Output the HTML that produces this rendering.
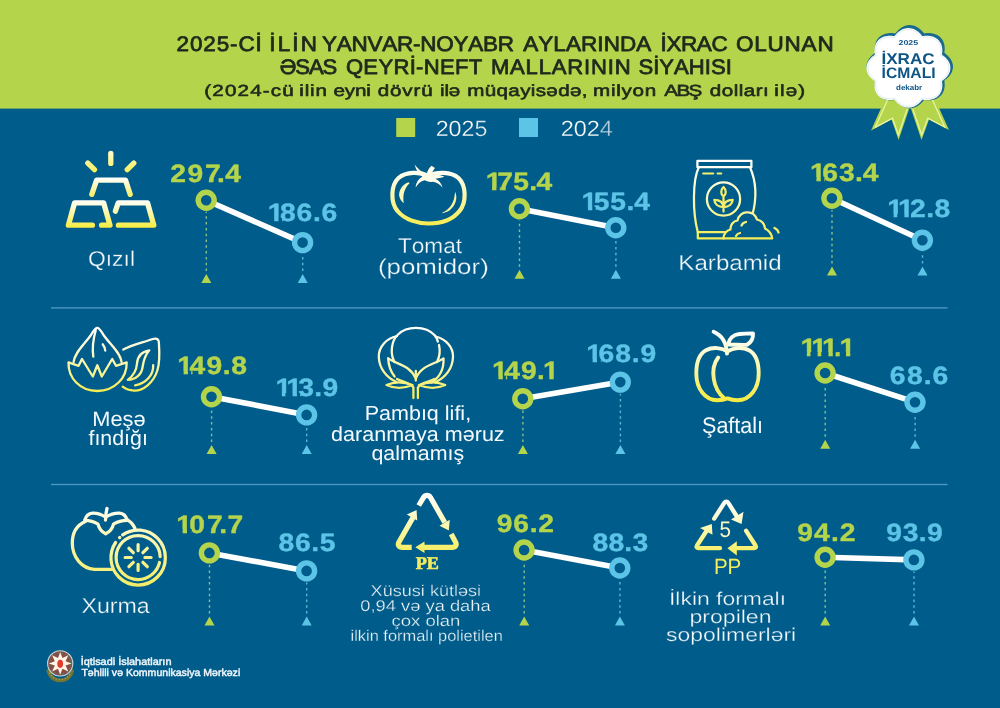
<!DOCTYPE html>
<html lang="az">
<head>
<meta charset="utf-8">
<title>2025-ci ilin yanvar-noyabr aylarında ixrac olunan əsas qeyri-neft mallarının siyahısı</title>
<style>
html,body{margin:0;padding:0;background:#005c8a;}
body{width:1000px;height:708px;overflow:hidden;font-family:"Liberation Sans",sans-serif;}
svg{display:block}
text{white-space:pre;font-kerning:none;text-rendering:geometricPrecision}
</style>
</head>
<body>
<svg width="1000" height="708" viewBox="0 0 1000 708">
<defs>
<linearGradient id="gy" x1="0" y1="0" x2="0" y2="1">
<stop offset="0" stop-color="#ffffff"/><stop offset="1" stop-color="#f3ec5f"/>
</linearGradient>
</defs>
<rect x="0" y="0" width="1000" height="708" fill="#005c8a"/>
<rect x="0" y="0" width="1000" height="108.6" fill="#b4d44c"/>
<text transform="translate(176.57 50.80) scale(1.0700 1)" x="0.00 12.51 25.03 37.54 50.06 57.89 73.89 80.19 86.73 94.53 108.17 115.97 131.60 135.88 149.68 163.48 178.44 192.24 206.04 221.00 227.79 242.74 258.87 272.67 286.48 300.28 315.91 323.91 338.01 352.12 363.89 377.99 393.26 399.19 414.45 429.71 444.18 452.39 457.84 471.46 486.24 499.87 515.50 522.73 539.83 552.27 568.21 584.14 598.91" font-family='"Liberation Sans", sans-serif' font-size="21.0" font-weight="normal" fill="#1f2a1c" stroke="#1f2a1c" stroke-width="0.77" stroke-linejoin="round">2025-Cİ İLİN YANVAR-NOYABR AYLARINDA İXRAC OLUNAN</text>
<text transform="translate(279.69 73.80) scale(1.0500 1)" x="0.00 14.82 27.85 40.87 55.36 63.06 79.70 94.01 108.32 123.79 129.93 137.23 152.70 167.01 180.14 193.45 201.15 219.42 234.21 246.67 259.13 273.91 289.86 296.47 312.42 319.03 334.68 341.68 355.72 361.59 375.63 389.67 404.87 410.74 424.78" font-family='"Liberation Sans", sans-serif' font-size="21.0" font-weight="normal" fill="#1f2a1c" stroke="#1f2a1c" stroke-width="0.78" stroke-linejoin="round">ƏSAS QEYRİ-NEFT MALLARININ SİYAHISI</text>
<text transform="translate(204.37 95.90) scale(1.2800 1)" x="0.00 6.25 16.09 25.93 35.77 45.61 51.86 60.80 70.15 74.14 78.36 82.58 86.80 96.15 100.90 109.70 117.60 126.40 130.36 135.48 145.08 154.68 163.38 169.39 178.74 184.10 187.53 190.96 200.31 205.40 219.07 228.28 237.50 246.71 255.02 258.86 267.17 276.38 285.59 294.81 299.67 303.64 317.62 321.76 325.90 334.51 344.03 353.37 359.37 368.81 378.26 389.39 394.85 404.19 413.52 417.47 421.43 430.76 436.50 441.36 445.23 449.69 454.15 463.98" font-family='"Liberation Sans", sans-serif' font-size="16.1" font-weight="normal" fill="#1f2a1c" stroke="#1f2a1c" stroke-width="0.61" stroke-linejoin="round">(2024-cü ilin eyni dövrü ilə müqayisədə, milyon ABŞ dolları ilə)</text>
<rect x="396.2" y="118" width="19" height="19" fill="#b4d44c"/>
<rect x="519" y="118" width="19" height="19" fill="#5cc4e6"/>
<text transform="translate(435.67 136.00) scale(1.0555 1)" font-family='"Liberation Sans", sans-serif' font-size="22" font-weight="normal" fill="#fff" stroke="#005c8a" stroke-width="0.3" stroke-linejoin="round" >202<tspan fill-opacity=".88">5</tspan></text>
<text transform="translate(560.66 136.00) scale(1.0663 1)" font-family='"Liberation Sans", sans-serif' font-size="22" font-weight="normal" fill="#fff" stroke="#005c8a" stroke-width="0.3" stroke-linejoin="round" >202<tspan fill-opacity=".72">4</tspan></text>
<rect x="51" y="307.2" width="896.5" height="1.4" fill="#4d96c2"/>
<rect x="51" y="483.8" width="896.5" height="1.4" fill="#4d96c2"/>
<line x1="206.3" y1="271.0" x2="206.3" y2="211.8" stroke="#a0d28c" stroke-width="1.4" stroke-dasharray="2.5 3.3" opacity="0.85"/>
<polygon points="201.3,283.0 211.3,283.0 206.3,274.0" fill="#b4d44c"/>
<line x1="302.7" y1="271.0" x2="302.7" y2="254.2" stroke="#6cc8e6" stroke-width="1.4" stroke-dasharray="2.5 3.3" opacity="0.85"/>
<polygon points="297.7,283.0 307.7,283.0 302.7,274.0" fill="#5cc4e6"/>
<line x1="206.2" y1="200.2" x2="302.6" y2="242.6" stroke="#fff" stroke-width="5.6"/>
<circle cx="206.2" cy="200.2" r="8" fill="#005c8a" stroke="#b4d44c" stroke-width="5.4"/>
<circle cx="302.6" cy="242.6" r="8" fill="#005c8a" stroke="#5cc4e6" stroke-width="5.4"/>
<text transform="translate(170.24 181.50) scale(1.130 1)" x="0.00 15.35 30.71 41.43 48.65" font-family='"Liberation Sans", sans-serif' font-size="25.0" font-weight="bold" fill="#b4d44c" stroke="#b4d44c" stroke-width="0.4" stroke-linejoin="round">297.4</text>
<clipPath id="c1"><path clip-rule="evenodd" d="M-30 -30.0H102.4V12.5H-30ZM-0.75 -2.90H5.63V2.00H-0.75ZM9.46 -2.90H12.63V2.00H9.46Z"/></clipPath><text transform="translate(267.80 220.90) scale(1.130 1)" x="0.00 10.71 25.42 39.92 47.43" font-family='"Liberation Sans", sans-serif' font-size="25.0" font-weight="bold" fill="#5cc4e6" stroke="#5cc4e6" stroke-width="0.4" stroke-linejoin="round" clip-path="url(#c1)">186.6</text>
<line x1="519.5" y1="266.8" x2="519.5" y2="220.3" stroke="#a0d28c" stroke-width="1.4" stroke-dasharray="2.5 3.3" opacity="0.85"/>
<polygon points="514.5,278.8 524.5,278.8 519.5,269.8" fill="#b4d44c"/>
<line x1="615.9" y1="266.8" x2="615.9" y2="239.3" stroke="#6cc8e6" stroke-width="1.4" stroke-dasharray="2.5 3.3" opacity="0.85"/>
<polygon points="610.9,278.8 620.9,278.8 615.9,269.8" fill="#5cc4e6"/>
<line x1="519.4" y1="208.7" x2="615.8" y2="227.7" stroke="#fff" stroke-width="5.6"/>
<circle cx="519.4" cy="208.7" r="8" fill="#005c8a" stroke="#b4d44c" stroke-width="5.4"/>
<circle cx="615.8" cy="227.7" r="8" fill="#005c8a" stroke="#5cc4e6" stroke-width="5.4"/>
<clipPath id="c2"><path clip-rule="evenodd" d="M-30 -30.0H99.9V12.5H-30ZM-0.75 -3.40H5.63V2.00H-0.75ZM9.46 -3.40H12.48V2.00H9.46Z"/></clipPath><text transform="translate(485.70 190.40) scale(1.130 1)" x="0.00 10.29 24.40 38.52 44.89" font-family='"Liberation Sans", sans-serif' font-size="25.0" font-weight="bold" fill="#b4d44c" stroke="#b4d44c" stroke-width="0.4" stroke-linejoin="round" clip-path="url(#c2)">175.4</text>
<clipPath id="c3"><path clip-rule="evenodd" d="M-30 -30.0H101.6V12.5H-30ZM-0.75 -3.00H5.63V2.00H-0.75ZM9.46 -3.00H12.55V2.00H9.46Z"/></clipPath><text transform="translate(581.60 210.00) scale(1.130 1)" x="0.00 10.66 25.33 39.84 46.57" font-family='"Liberation Sans", sans-serif' font-size="25.0" font-weight="bold" fill="#5cc4e6" stroke="#5cc4e6" stroke-width="0.4" stroke-linejoin="round" clip-path="url(#c3)">155.4</text>
<line x1="832.0" y1="263.6" x2="832.0" y2="209.9" stroke="#a0d28c" stroke-width="1.4" stroke-dasharray="2.5 3.3" opacity="0.85"/>
<polygon points="827.0,275.6 837.0,275.6 832.0,266.6" fill="#b4d44c"/>
<line x1="922.5" y1="263.6" x2="922.5" y2="251.8" stroke="#6cc8e6" stroke-width="1.4" stroke-dasharray="2.5 3.3" opacity="0.85"/>
<polygon points="917.5,275.6 927.5,275.6 922.5,266.6" fill="#5cc4e6"/>
<line x1="831.9" y1="198.3" x2="922.4" y2="240.2" stroke="#fff" stroke-width="5.6"/>
<circle cx="831.9" cy="198.3" r="8" fill="#005c8a" stroke="#b4d44c" stroke-width="5.4"/>
<circle cx="922.4" cy="240.2" r="8" fill="#005c8a" stroke="#5cc4e6" stroke-width="5.4"/>
<clipPath id="c4"><path clip-rule="evenodd" d="M-30 -30.0H101.6V12.5H-30ZM-0.75 -3.60H5.63V2.00H-0.75ZM9.46 -3.60H12.73V2.00H9.46Z"/></clipPath><text transform="translate(810.10 180.60) scale(1.130 1)" x="0.00 10.69 25.53 39.84 46.57" font-family='"Liberation Sans", sans-serif' font-size="25.0" font-weight="bold" fill="#b4d44c" stroke="#b4d44c" stroke-width="0.4" stroke-linejoin="round" clip-path="url(#c4)">163.4</text>
<clipPath id="c5"><path clip-rule="evenodd" d="M-30 -30.0H96.7V12.5H-30ZM-0.75 -3.20H5.63V2.00H-0.75ZM8.77 -3.20H15.16V2.00H8.77ZM18.99 -3.20H20.99V2.00H18.99Z"/></clipPath><text transform="translate(887.30 217.20) scale(1.130 1)" x="0.00 9.52 20.12 34.38 41.72" font-family='"Liberation Sans", sans-serif' font-size="25.0" font-weight="bold" fill="#5cc4e6" stroke="#5cc4e6" stroke-width="0.4" stroke-linejoin="round" clip-path="url(#c5)">112.8</text>
<line x1="211.6" y1="442.0" x2="211.6" y2="408.3" stroke="#a0d28c" stroke-width="1.4" stroke-dasharray="2.5 3.3" opacity="0.85"/>
<polygon points="206.6,454.0 216.6,454.0 211.6,445.0" fill="#b4d44c"/>
<line x1="306.7" y1="442.0" x2="306.7" y2="426.5" stroke="#6cc8e6" stroke-width="1.4" stroke-dasharray="2.5 3.3" opacity="0.85"/>
<polygon points="301.7,454.0 311.7,454.0 306.7,445.0" fill="#5cc4e6"/>
<line x1="211.5" y1="396.7" x2="306.6" y2="414.9" stroke="#fff" stroke-width="5.6"/>
<circle cx="211.5" cy="396.7" r="8" fill="#005c8a" stroke="#b4d44c" stroke-width="5.4"/>
<circle cx="306.6" cy="414.9" r="8" fill="#005c8a" stroke="#5cc4e6" stroke-width="5.4"/>
<clipPath id="c6"><path clip-rule="evenodd" d="M-30 -30.0H102.8V12.5H-30ZM-0.75 -3.00H5.63V2.00H-0.75ZM9.46 -3.00H12.31V2.00H9.46Z"/></clipPath><text transform="translate(177.30 374.00) scale(1.130 1)" x="0.00 10.81 25.92 40.13 47.82" font-family='"Liberation Sans", sans-serif' font-size="25.0" font-weight="bold" fill="#b4d44c" stroke="#b4d44c" stroke-width="0.4" stroke-linejoin="round" clip-path="url(#c6)">149.8</text>
<clipPath id="c7"><path clip-rule="evenodd" d="M-30 -30.0H96.7V12.5H-30ZM-0.75 -3.30H5.63V2.00H-0.75ZM8.76 -3.30H15.14V2.00H8.76ZM18.97 -3.30H21.89V2.00H18.97Z"/></clipPath><text transform="translate(275.50 396.30) scale(1.130 1)" x="0.00 9.51 20.19 34.34 41.70" font-family='"Liberation Sans", sans-serif' font-size="25.0" font-weight="bold" fill="#5cc4e6" stroke="#5cc4e6" stroke-width="0.4" stroke-linejoin="round" clip-path="url(#c7)">113.9</text>
<line x1="522.9" y1="442.0" x2="522.9" y2="410.4" stroke="#a0d28c" stroke-width="1.4" stroke-dasharray="2.5 3.3" opacity="0.85"/>
<polygon points="517.9,454.0 527.9,454.0 522.9,445.0" fill="#b4d44c"/>
<line x1="620.4" y1="442.0" x2="620.4" y2="393.7" stroke="#6cc8e6" stroke-width="1.4" stroke-dasharray="2.5 3.3" opacity="0.85"/>
<polygon points="615.4,454.0 625.4,454.0 620.4,445.0" fill="#5cc4e6"/>
<line x1="522.8" y1="398.8" x2="620.3" y2="382.1" stroke="#fff" stroke-width="5.6"/>
<circle cx="522.8" cy="398.8" r="8" fill="#005c8a" stroke="#b4d44c" stroke-width="5.4"/>
<circle cx="620.3" cy="382.1" r="8" fill="#005c8a" stroke="#5cc4e6" stroke-width="5.4"/>
<clipPath id="c8"><path clip-rule="evenodd" d="M-30 -30.0H100.0V12.5H-30ZM-0.75 -3.30H5.63V2.00H-0.75ZM9.46 -3.30H12.21V2.00H9.46ZM45.03 -3.30H50.68V2.00H45.03ZM54.51 -3.30H59.54V2.00H54.51Z"/></clipPath><text transform="translate(492.10 379.30) scale(1.130 1)" x="0.00 10.70 25.68 39.81 45.04" font-family='"Liberation Sans", sans-serif' font-size="25.0" font-weight="bold" fill="#b4d44c" stroke="#b4d44c" stroke-width="0.4" stroke-linejoin="round" clip-path="url(#c8)">149.1</text>
<clipPath id="c9"><path clip-rule="evenodd" d="M-30 -30.0H103.0V12.5H-30ZM-0.75 -3.40H5.63V2.00H-0.75ZM9.46 -3.40H12.89V2.00H9.46Z"/></clipPath><text transform="translate(586.30 362.40) scale(1.130 1)" x="0.00 10.85 25.70 40.32 47.98" font-family='"Liberation Sans", sans-serif' font-size="25.0" font-weight="bold" fill="#5cc4e6" stroke="#5cc4e6" stroke-width="0.4" stroke-linejoin="round" clip-path="url(#c9)">168.9</text>
<line x1="825.2" y1="436.8" x2="825.2" y2="384.6" stroke="#a0d28c" stroke-width="1.4" stroke-dasharray="2.5 3.3" opacity="0.85"/>
<polygon points="820.2,448.8 830.2,448.8 825.2,439.8" fill="#b4d44c"/>
<line x1="915.1" y1="436.8" x2="915.1" y2="413.8" stroke="#6cc8e6" stroke-width="1.4" stroke-dasharray="2.5 3.3" opacity="0.85"/>
<polygon points="910.1,448.8 920.1,448.8 915.1,439.8" fill="#5cc4e6"/>
<line x1="825.1" y1="373.0" x2="915.0" y2="402.2" stroke="#fff" stroke-width="5.6"/>
<circle cx="825.1" cy="373.0" r="8" fill="#005c8a" stroke="#b4d44c" stroke-width="5.4"/>
<circle cx="915.0" cy="402.2" r="8" fill="#005c8a" stroke="#5cc4e6" stroke-width="5.4"/>
<clipPath id="c10"><path clip-rule="evenodd" d="M-30 -30.0H89.6V12.5H-30ZM-0.75 -3.60H5.63V2.00H-0.75ZM8.80 -3.60H15.19V2.00H8.80ZM18.36 -3.60H24.74V2.00H18.36ZM28.57 -3.60H31.21V2.00H28.57ZM34.74 -3.60H40.24V2.00H34.74ZM44.07 -3.60H49.10V2.00H44.07Z"/></clipPath><text transform="translate(800.50 355.60) scale(1.130 1)" x="0.00 9.55 19.11 29.52 34.60" font-family='"Liberation Sans", sans-serif' font-size="25.0" font-weight="bold" fill="#b4d44c" stroke="#b4d44c" stroke-width="0.4" stroke-linejoin="round" clip-path="url(#c10)">111.1</text>
<text transform="translate(889.79 384.20) scale(1.130 1)" x="0.00 15.13 29.96 37.79" font-family='"Liberation Sans", sans-serif' font-size="25.0" font-weight="bold" fill="#5cc4e6" stroke="#5cc4e6" stroke-width="0.4" stroke-linejoin="round">68.6</text>
<line x1="209.5" y1="613.6" x2="209.5" y2="564.5" stroke="#a0d28c" stroke-width="1.4" stroke-dasharray="2.5 3.3" opacity="0.85"/>
<polygon points="204.5,625.6 214.5,625.6 209.5,616.6" fill="#b4d44c"/>
<line x1="306.7" y1="613.6" x2="306.7" y2="582.5" stroke="#6cc8e6" stroke-width="1.4" stroke-dasharray="2.5 3.3" opacity="0.85"/>
<polygon points="301.7,625.6 311.7,625.6 306.7,616.6" fill="#5cc4e6"/>
<line x1="209.4" y1="552.9" x2="306.6" y2="570.9" stroke="#fff" stroke-width="5.6"/>
<circle cx="209.4" cy="552.9" r="8" fill="#005c8a" stroke="#b4d44c" stroke-width="5.4"/>
<circle cx="306.6" cy="570.9" r="8" fill="#005c8a" stroke="#5cc4e6" stroke-width="5.4"/>
<clipPath id="c11"><path clip-rule="evenodd" d="M-30 -30.0H100.3V12.5H-30ZM-0.75 -3.80H5.63V2.00H-0.75ZM9.46 -3.80H13.64V2.00H9.46Z"/></clipPath><text transform="translate(176.30 532.80) scale(1.130 1)" x="0.00 11.52 27.16 38.00 45.32" font-family='"Liberation Sans", sans-serif' font-size="25.0" font-weight="bold" fill="#b4d44c" stroke="#b4d44c" stroke-width="0.4" stroke-linejoin="round" clip-path="url(#c11)">107.7</text>
<text transform="translate(278.62 551.00) scale(1.130 1)" x="0.00 14.56 28.95 36.31" font-family='"Liberation Sans", sans-serif' font-size="25.0" font-weight="bold" fill="#5cc4e6" stroke="#5cc4e6" stroke-width="0.4" stroke-linejoin="round">86.5</text>
<line x1="524.2" y1="613.6" x2="524.2" y2="561.6" stroke="#a0d28c" stroke-width="1.4" stroke-dasharray="2.5 3.3" opacity="0.85"/>
<polygon points="519.2,625.6 529.2,625.6 524.2,616.6" fill="#b4d44c"/>
<line x1="619.9" y1="613.6" x2="619.9" y2="579.6" stroke="#6cc8e6" stroke-width="1.4" stroke-dasharray="2.5 3.3" opacity="0.85"/>
<polygon points="614.9,625.6 624.9,625.6 619.9,616.6" fill="#5cc4e6"/>
<line x1="524.1" y1="550.0" x2="619.8" y2="568.0" stroke="#fff" stroke-width="5.6"/>
<circle cx="524.1" cy="550.0" r="8" fill="#005c8a" stroke="#b4d44c" stroke-width="5.4"/>
<circle cx="619.8" cy="568.0" r="8" fill="#005c8a" stroke="#5cc4e6" stroke-width="5.4"/>
<text transform="translate(496.84 532.00) scale(1.130 1)" x="0.00 14.64 29.13 36.69" font-family='"Liberation Sans", sans-serif' font-size="25.0" font-weight="bold" fill="#b4d44c" stroke="#b4d44c" stroke-width="0.4" stroke-linejoin="round">96.2</text>
<text transform="translate(592.62 551.00) scale(1.130 1)" x="0.00 14.06 28.08 35.28" font-family='"Liberation Sans", sans-serif' font-size="25.0" font-weight="bold" fill="#5cc4e6" stroke="#5cc4e6" stroke-width="0.4" stroke-linejoin="round">88.3</text>
<line x1="825.2" y1="613.6" x2="825.2" y2="568.8" stroke="#a0d28c" stroke-width="1.4" stroke-dasharray="2.5 3.3" opacity="0.85"/>
<polygon points="820.2,625.6 830.2,625.6 825.2,616.6" fill="#b4d44c"/>
<line x1="914.0" y1="613.6" x2="914.0" y2="571.5" stroke="#6cc8e6" stroke-width="1.4" stroke-dasharray="2.5 3.3" opacity="0.85"/>
<polygon points="909.0,625.6 919.0,625.6 914.0,616.6" fill="#5cc4e6"/>
<line x1="825.1" y1="557.2" x2="913.9" y2="559.9" stroke="#fff" stroke-width="5.6"/>
<circle cx="825.1" cy="557.2" r="8" fill="#005c8a" stroke="#b4d44c" stroke-width="5.4"/>
<circle cx="913.9" cy="559.9" r="8" fill="#005c8a" stroke="#5cc4e6" stroke-width="5.4"/>
<text transform="translate(797.24 540.80) scale(1.130 1)" x="0.00 14.92 29.81 37.66" font-family='"Liberation Sans", sans-serif' font-size="25.0" font-weight="bold" fill="#b4d44c" stroke="#b4d44c" stroke-width="0.4" stroke-linejoin="round">94.2</text>
<text transform="translate(886.24 540.80) scale(1.130 1)" x="0.00 14.62 28.79 36.17" font-family='"Liberation Sans", sans-serif' font-size="25.0" font-weight="bold" fill="#5cc4e6" stroke="#5cc4e6" stroke-width="0.4" stroke-linejoin="round">93.9</text>
<text transform="translate(87.97 266.00) scale(1.0737 1)" font-family='"Liberation Sans", sans-serif' font-size="21.3" font-weight="normal" fill="#f4fafd" stroke="#005c8a" stroke-width="0.28" stroke-linejoin="round" >Qızıl</text>
<text transform="translate(397.94 253.20) scale(1.0614 1)" font-family='"Liberation Sans", sans-serif' font-size="21.3" font-weight="normal" fill="#f4fafd" stroke="#005c8a" stroke-width="0.28" stroke-linejoin="round" >Tomat</text>
<text transform="translate(377.92 274.40) scale(1.2163 1)" font-family='"Liberation Sans", sans-serif' font-size="21.3" font-weight="normal" fill="#f4fafd" stroke="#005c8a" stroke-width="0.28" stroke-linejoin="round" >(pomidor)</text>
<text transform="translate(678.36 270.30) scale(1.1326 1)" font-family='"Liberation Sans", sans-serif' font-size="21.3" font-weight="normal" fill="#f4fafd" stroke="#005c8a" stroke-width="0.28" stroke-linejoin="round" >Karbamid</text>
<text transform="translate(92.21 426.00) scale(1.0441 1)" font-family='"Liberation Sans", sans-serif' font-size="20.9" font-weight="normal" fill="#f4fafd" >Meşə</text>
<text transform="translate(88.50 445.20) scale(1.0213 1)" font-family='"Liberation Sans", sans-serif' font-size="20.9" font-weight="normal" fill="#f4fafd" >fındığı</text>
<text transform="translate(364.63 420.40) scale(1.0617 1)" font-family='"Liberation Sans", sans-serif' font-size="20.3" font-weight="normal" fill="#f4fafd" >Pambıq lifi,</text>
<text transform="translate(331.10 440.50) scale(1.0616 1)" font-family='"Liberation Sans", sans-serif' font-size="20.3" font-weight="normal" fill="#f4fafd" >daranmaya məruz</text>
<text transform="translate(371.40 460.40) scale(1.0544 1)" font-family='"Liberation Sans", sans-serif' font-size="20.3" font-weight="normal" fill="#f4fafd" >qalmamış</text>
<text transform="translate(702.02 432.90) scale(0.9567 1)" font-family='"Liberation Sans", sans-serif' font-size="22.5" font-weight="normal" fill="#f4fafd" >Şaftalı</text>
<text transform="translate(81.53 613.30) scale(1.0875 1)" font-family='"Liberation Sans", sans-serif' font-size="21.3" font-weight="normal" fill="#f4fafd" stroke="#005c8a" stroke-width="0.28" stroke-linejoin="round" >Xurma</text>
<text transform="translate(370.62 595.70) scale(1.1658 1)" font-family='"Liberation Sans", sans-serif' font-size="15.5" font-weight="normal" fill="#f4fafd" stroke="#005c8a" stroke-width="0.3" stroke-linejoin="round" >Xüsusi kütləsi</text>
<text transform="translate(360.31 610.80) scale(1.1819 1)" font-family='"Liberation Sans", sans-serif' font-size="15.5" font-weight="normal" fill="#f4fafd" stroke="#005c8a" stroke-width="0.3" stroke-linejoin="round" >0,94 və ya daha</text>
<text transform="translate(391.43 626.20) scale(1.1943 1)" font-family='"Liberation Sans", sans-serif' font-size="15.5" font-weight="normal" fill="#f4fafd" stroke="#005c8a" stroke-width="0.3" stroke-linejoin="round" >çox olan</text>
<text transform="translate(350.54 640.90) scale(1.0585 1)" font-family='"Liberation Sans", sans-serif' font-size="15.5" font-weight="normal" fill="#f4fafd" stroke="#005c8a" stroke-width="0.3" stroke-linejoin="round" >ilkin formalı polietilen</text>
<text transform="translate(669.00 605.30) scale(1.2378 1)" font-family='"Liberation Sans", sans-serif' font-size="18.5" font-weight="normal" fill="#f4fafd" stroke="#005c8a" stroke-width="0.3" stroke-linejoin="round" >İlkin formalı</text>
<text transform="translate(689.53 622.60) scale(1.2450 1)" font-family='"Liberation Sans", sans-serif' font-size="18.5" font-weight="normal" fill="#f4fafd" stroke="#005c8a" stroke-width="0.3" stroke-linejoin="round" >propilen</text>
<text transform="translate(666.08 640.90) scale(1.2402 1)" font-family='"Liberation Sans", sans-serif' font-size="18.5" font-weight="normal" fill="#f4fafd" stroke="#005c8a" stroke-width="0.3" stroke-linejoin="round" >sopolimerləri</text>
<text transform="translate(415.69 568.80) scale(1.0103 1)" font-family='"Liberation Serif", serif' font-size="18" font-weight="bold" fill="#f3ec5f" stroke="#f3ec5f" stroke-width="0.6" stroke-linejoin="round" >PE</text>
<text transform="translate(713.92 574.20) scale(0.9324 1)" font-family='"Liberation Sans", sans-serif' font-size="22" font-weight="normal" fill="#f3ec5f" >PP</text>
<text transform="translate(719.57 537.20) scale(0.9187 1)" font-family='"Liberation Sans", sans-serif' font-size="22.5" font-weight="normal" fill="#fbf8c4" >5</text>
<text transform="translate(80.63 664.70) scale(1.0577 1)" font-family='"Liberation Sans", sans-serif' font-size="10.3" font-weight="normal" fill="#eef6fb" stroke="#eef6fb" stroke-width="0.45" stroke-linejoin="round" >İqtisadi İslahatların</text>
<text transform="translate(81.39 676.20) scale(1.0243 1)" font-family='"Liberation Sans", sans-serif' font-size="10.3" font-weight="normal" fill="#eef6fb" stroke="#eef6fb" stroke-width="0.45" stroke-linejoin="round" >Təhlili və Kommunikasiya Mərkəzi</text>
<!-- ICON: gold bars -->
<g id="ic-gold" fill="none" stroke-width="5.3" stroke-linecap="round" stroke-linejoin="round">
<linearGradient id="gGoldR" gradientUnits="userSpaceOnUse" x1="0" y1="151" x2="0" y2="172"><stop offset="0" stop-color="#fffbd0"/><stop offset="1" stop-color="#f6ee5c"/></linearGradient>
<linearGradient id="gGoldA" gradientUnits="userSpaceOnUse" x1="0" y1="178" x2="0" y2="197"><stop offset="0" stop-color="#ffffff"/><stop offset="1" stop-color="#f6ee5c"/></linearGradient>
<linearGradient id="gGoldB" gradientUnits="userSpaceOnUse" x1="0" y1="200" x2="0" y2="228"><stop offset="0" stop-color="#ffffff"/><stop offset="1" stop-color="#f8ec3e"/></linearGradient>
<g stroke="url(#gGoldR)">
<path d="M110.8 153.3V163.4"/>
<path d="M87.8 163.1L94.5 169.7"/>
<path d="M133.8 163.1L127.2 169.7"/>
</g>
<path stroke="url(#gGoldA)" d="M91.8 194.4L96.6 180.2H125.5L130.2 194.4"/>
<path stroke="url(#gGoldB)" d="M92.4 225.2H68.4L74.6 202.8H103.6L110 225.2H101.6"/>
<path stroke="url(#gGoldB)" d="M115.4 211.2L118.2 202.8H147.5L153.8 225.2H118.4"/>
</g>
<!-- ICON: tomato -->
<g id="ic-tomato">
<linearGradient id="gTom" gradientUnits="userSpaceOnUse" x1="0" y1="168" x2="0" y2="226"><stop offset="0" stop-color="#ffffff"/><stop offset="0.45" stop-color="#fbf7b0"/><stop offset="1" stop-color="#f6ec4e"/></linearGradient>
<path fill="none" stroke="url(#gTom)" stroke-width="4.2" d="M428.5 176C420 171.5 406 171.500 398.500 178C390.500 185.500 390.500 203 397.500 211C405 220 418 223.500 428.500 223.500C440 223.500 452.500 220 459.500 211C466.500 203 466.500 185.500 458.500 178C451 171.500 437 171.500 428.500 176Z"/>
<path fill="#fffdea" d="M414.6 164.6C418 169 421.500 172.500 426.600 174C427.500 171 429 168 431.500 165.800L435 168C433 170.500 432 172.500 431.800 174.500C436 174.200 440.500 174.800 444.500 176.800C441 177.800 438 178.300 435.500 178.800C439 180.500 441.500 183.500 442.600 187.800C440 184.500 437 182.500 433 181.800C430 182.500 427 181.300 424.500 180.300C420.500 181.300 418 183.800 415.600 187.500C416 182.500 418.500 178.800 422.500 176.800C419 174.500 416 170.500 414.600 164.600Z"/>
<path fill="#fcf8b8" d="M408.600 182.200C403 184 398.500 190 399.200 196C400 199.500 401.500 201.500 403.800 203.200C402.500 195.500 404 188.500 409.600 183.200Z"/>
<path fill="#faf3a0" d="M455.200 191.800C458 198 455.500 206 449.500 210.500C447 212 444.500 213 441.500 213.300C447.500 210.500 453.500 205 454.500 196Z"/>
</g>
<!-- ICON: karbamid bag -->
<g id="ic-bag" fill="none" stroke-width="2.25" stroke-linecap="round" stroke-linejoin="round">
<linearGradient id="gBag" gradientUnits="userSpaceOnUse" x1="0" y1="160" x2="0" y2="240"><stop offset="0" stop-color="#ffffff"/><stop offset="0.5" stop-color="#fbf8b8"/><stop offset="1" stop-color="#f5ec52"/></linearGradient>
<g stroke="url(#gBag)">
<rect x="697.4" y="160.8" width="54" height="6.4"/>
<path d="M698.8 167.200C692.500 180 692.500 212 697.800 232.100V238.300H724"/>
<path d="M697.800 232.100H729"/>
<path d="M750 167.200C756.500 182 756.500 200 752.200 215.500"/>
<path stroke="#f5ee6a" stroke-width="2.2" d="M703.200 173.500H713.200M717.600 173.500H721.200"/>
<circle cx="723.500" cy="199" r="16.600"/>
<path stroke="#f5ee6a" d="M723.500 187C720.500 190 720.500 194 723.500 196.500C726.500 194 726.500 190 723.500 187ZM723.500 196.500V211.500M723.500 207C718 207 714.500 204 714.300 199.800C719.500 199.800 723 202.500 723.500 207ZM723.500 207C729 207 732.500 204 732.700 199.800C727.500 199.800 724 202.500 723.500 207Z"/>
<path fill="#005c8a" d="M723.300 238.300C724 233.500 727 230.500 730.500 229.500C730 225 733.500 221 737.500 220.500C738.500 215.500 743 212 747 212.400C752 212 755.500 215.500 757 219.500C761.500 220.500 764.500 224 765 228.500C769 230.500 771.500 234 772.200 238.300Z"/>
<path d="M741.500 225.500C742.300 223.500 744 222.300 746 222M736 236C736.800 234.300 738.300 233.300 740 233M774.500 228C776.500 228.800 778 230.500 778.500 232.500"/>
</g>
</g>
<!-- ICON: hazelnut -->
<g id="ic-nut" fill="none" stroke-width="2.3" stroke-linecap="round" stroke-linejoin="round">
<linearGradient id="gNut" gradientUnits="userSpaceOnUse" x1="0" y1="327" x2="0" y2="392"><stop offset="0" stop-color="#ffffff"/><stop offset="0.5" stop-color="#fbf8b8"/><stop offset="1" stop-color="#f5ec52"/></linearGradient>
<g stroke="url(#gNut)">
<path d="M73.600 362C75 352 84 345 91 335C93.500 331 95 327.800 97.300 327.800C99.600 327.800 101 331 103.500 335C110.500 345 120 352 121.600 362"/>
<path d="M68.500 362.400C68 378 80 391 97.300 391C114.500 391 127 378 126.700 362.400L116 365.800L112.200 359L101.800 376.500L97.300 365.200L92.800 376.500L82 359L78.600 365.800Z"/>
<path d="M95.800 330C93.500 338 92 348 93.300 356.700M102.700 344.300C104 346 105 348 105.200 350.500"/>
<path d="M123.300 349.600C131 345 143 342.500 153 339C157 337.800 159 339.500 158.900 343C159.500 352 160 362 157.500 370C153.500 383 143 391 134 390.600C129.500 390.500 125.500 389 122.700 386.700"/>
<path d="M149.300 350.300C142 351.500 137.500 356.500 137 363.500C136.500 370.500 133 376 127.800 379.900C136 379.500 141.500 374.500 142.500 367.500C143.500 360.500 145.500 354.500 149.300 350.300Z"/>
<path d="M153.200 365.200C153.500 375 146 383.500 135.100 385.300"/>
</g>
</g>
<!-- ICON: cotton -->
<g id="ic-cotton" fill="none" stroke-width="2.3" stroke-linecap="round" stroke-linejoin="round">
<linearGradient id="gCot" gradientUnits="userSpaceOnUse" x1="0" y1="327" x2="0" y2="398"><stop offset="0" stop-color="#ffffff"/><stop offset="0.5" stop-color="#fbf8b8"/><stop offset="1" stop-color="#f5ec52"/></linearGradient>
<g stroke="url(#gCot)">
<path d="M394.500 362C390 354 391 341 398 334.500C403 329.500 409.500 327.800 415.800 327.800C423 327.800 430 330 435 335.500C436.500 337.500 437.500 339.500 437.800 341.500"/>
<path d="M439 345C440.500 351 439.500 357 437 362"/>
<path d="M397 336C386 338.500 378.500 347 378.800 357C379.200 368 386 377.500 396.500 382"/>
<path d="M435.500 336.500C446 339 453.300 347 453 357C452.600 368 446 377.500 435.500 382"/>
<path d="M388.200 358.400C397 364.500 410 365 415.800 378.500C421.500 365 434.500 364.500 443.500 358.400C444 368 440 377 431.500 382.500"/>
<path d="M388.200 358.400C388.500 365 390.500 371.500 394.600 376.500"/>
<path d="M415.800 371V380.500"/>
<path d="M397 379C403.500 382.500 411 382.500 413.400 387.500V398M417.900 398V387.500C420.500 382.500 428 382.500 434.500 379"/>
<path d="M386.500 385C394 381.500 404 381.800 412.500 385C404 388.500 394 388.500 386.500 385ZM445.200 385C437.500 381.500 427.500 381.800 419 385C427.500 388.500 437.500 388.500 445.200 385Z"/>
</g>
</g>
<!-- ICON: peach -->
<g id="ic-peach" fill="none" stroke-width="3.9" stroke-linecap="round" stroke-linejoin="round">
<linearGradient id="gPea" gradientUnits="userSpaceOnUse" x1="0" y1="330" x2="0" y2="403"><stop offset="0" stop-color="#ffffff"/><stop offset="0.3" stop-color="#fdfbd4"/><stop offset="0.65" stop-color="#f9f189"/><stop offset="1" stop-color="#f6ea3c"/></linearGradient>
<g stroke="url(#gPea)">
<path d="M727.500 351.400C722 347.600 712.500 346.800 706 350.200C699 354 696.300 363 696.300 373.500C696.300 388.500 705 400.300 717.500 400.300C721.500 400.300 724.800 399.500 727.500 398.400C730.200 399.500 733.500 400.300 737.500 400.300C750 400.300 758.700 388.500 758.700 373.500C758.700 363 756 354 749 350.200C742.500 346.800 733 347.600 727.500 351.400Z"/>
<path d="M718.200 357.500C714 363 712.500 371 713.800 379C715 387 719 394 724.500 398.600"/>
<path d="M713.600 331.800C721 335 726.500 342.500 727 353.600"/>
<path d="M728 344.500C729 338.500 733.500 334.600 739.500 334C744 333.500 748.500 333.400 753 333.400C753.300 338 751 342.500 747 344.800C741 345 734.500 344.500 728 344.500Z"/>
</g>
</g>
<!-- ICON: persimmon -->
<g id="ic-pers" fill="none" stroke-width="3.25" stroke-linecap="round" stroke-linejoin="round">
<linearGradient id="gPer" gradientUnits="userSpaceOnUse" x1="0" y1="508" x2="0" y2="587"><stop offset="0" stop-color="#fffef2"/><stop offset="0.35" stop-color="#fbf7b4"/><stop offset="1" stop-color="#f4ec62"/></linearGradient>
<g stroke="url(#gPer)">
<path d="M85.300 521.600C76.500 525.500 72.300 533.500 72.300 543C72.300 557 81.500 568.500 94.500 569.300H113"/>
<path d="M126 519C130 521 133 524 135 528.500"/>
<path d="M84.700 520.300C86 516 88.500 513.500 92.500 513.200C97 513 101.500 514.500 105.700 517.200C110 514.500 114.500 513 119.500 513.200C123.500 513.500 126 516 127.300 520.300C122 520.300 117.500 521.500 113.500 524.200C112.500 528.500 109.500 532 105.700 533.800C102 532 99 528.500 98 524.200C94 521.500 89.500 520.300 84.700 520.300Z"/>
<path stroke-width="3.3" d="M107 508.500C106 512 105.600 516 105.500 520"/>
<path d="M122.700 534.800C133.500 527.500 148 528.500 157.400 538.200C168 549 168 566.500 157.400 577C146.800 587.700 129.500 587.700 118.800 577C109.500 567.500 108.500 553 115.600 542.500"/>
<path d="M119.600 537.600L119.700 537.500"/>
<path d="M159.500 562.500C157.500 571.500 149 579.500 138.100 579.500C126 579.500 116.100 569.600 116.100 557.500C116.100 545.400 126 535.500 138.100 535.500C150.200 535.500 160.100 545.400 160.100 556.500"/>
<g stroke-width="3.2">
<path d="M138.100 550.700V544.500M138.100 564.300V570.500M144.900 557.500H151.100M131.300 557.500H125.100M142.900 552.700L147.300 548.300M133.300 562.300L128.900 566.700M142.900 562.300L147.300 566.700M133.300 552.700L128.900 548.300"/>
</g>
</g>
</g>
<!-- ICON: PE recycle -->
<g id="ic-pe">
<linearGradient id="gPE" gradientUnits="userSpaceOnUse" x1="0" y1="494" x2="0" y2="550"><stop offset="0" stop-color="#ffffff"/><stop offset="0.6" stop-color="#fbf7a8"/><stop offset="1" stop-color="#f6ee66"/></linearGradient>
<g fill="none" stroke="url(#gPE)" stroke-width="5.200" stroke-linejoin="round">
<path d="M418.700 505.500L423.600 497.300C425.300 494.600 428.700 494.600 430.400 497.300L444.800 522.500"/>
<path d="M451.200 534L455.500 542C457.200 545 455.500 547.300 452.200 547.300H424"/>
<path d="M411.700 547.300H402.300C399 547.300 397.300 545 399 542L413 517.500"/>
</g>
<g fill="url(#gPE)">
<path d="M448.800 530.500L439.500 525.800L449.800 519.800Z"/>
<path d="M415.300 547.300L424.500 541.500V553.100Z"/>
<path d="M416.600 510L417.200 520.500L406.800 514.500Z"/>
</g>
</g>
<!-- ICON: PP recycle -->
<g id="ic-pp">
<linearGradient id="gPP" gradientUnits="userSpaceOnUse" x1="0" y1="500" x2="0" y2="552"><stop offset="0" stop-color="#ffffff"/><stop offset="0.6" stop-color="#fbf7a8"/><stop offset="1" stop-color="#f6ee66"/></linearGradient>
<g fill="none" stroke="url(#gPP)" stroke-width="4.3" stroke-linejoin="round" stroke-linecap="round">
<path d="M714.200 518.600L724.300 502.800C725.300 501.200 727.300 501.200 728.300 502.800L737.500 517.500"/>
<path d="M746 530.700L755.500 545.500C756.500 547.200 755.700 548.200 754 548.200H736"/>
<path d="M720 548.200H698.500C696.800 548.200 696 547.200 697 545.500L706.500 531"/>
</g>
<g fill="url(#gPP)">
<path d="M741.600 524L731 519.500L743.500 511.800Z"/>
<path d="M727.400 548.300L736.800 541.300V555.500Z"/>
<path d="M711.800 524L712.500 534.800L700 528Z"/>
</g>
</g>
<!-- BADGE -->
<g id="badge">
<path fill="#b4d44c" d="M885.500 98L871 130.400L891.500 119.400L898.600 140L909.400 108ZM934.500 98L949 130L929 119.400L921.500 140L910.700 108Z"/>
<path fill="none" stroke="#eaf6a6" stroke-width="1.2" stroke-linejoin="miter" d="M887.500 100L875.200 127.400L892.600 118.200L898.400 135L907.200 109M932.500 100L944.800 127.200L927.900 118.200L921.700 135L912.900 109"/>
<path fill="#1a6a8e" d="M909.7 25.1L910.5 25.1L911.2 25.2L912.0 25.3L912.7 25.4L913.4 25.6L914.2 25.8L914.9 26.1L915.6 26.3L916.3 26.7L917.0 27.0L917.6 27.4L918.3 27.8L918.9 28.3L919.5 28.7L920.1 29.2L920.7 29.7L921.3 30.3L921.8 30.8L922.3 31.4L922.9 32.0L923.3 32.5L923.8 33.1L924.4 33.4L925.2 33.3L926.0 33.2L926.7 33.1L927.5 33.1L928.3 33.1L929.1 33.1L929.9 33.1L930.7 33.2L931.4 33.2L932.2 33.4L933.0 33.5L933.7 33.7L934.5 33.9L935.2 34.2L935.9 34.4L936.6 34.7L937.3 35.1L937.9 35.5L938.6 35.9L939.2 36.3L939.7 36.8L940.3 37.3L940.8 37.8L941.3 38.4L941.8 38.9L942.2 39.6L942.6 40.2L942.9 40.8L943.3 41.5L943.5 42.2L943.8 42.9L944.0 43.6L944.2 44.3L944.4 45.1L944.5 45.8L944.6 46.5L944.6 47.3L944.7 48.1L944.7 48.8L944.7 49.6L944.6 50.3L944.5 51.1L944.5 51.8L944.4 52.6L944.6 53.1L945.2 53.6L945.8 54.1L946.4 54.5L947.0 55.0L947.6 55.6L948.1 56.1L948.7 56.7L949.2 57.2L949.7 57.8L950.1 58.4L950.6 59.1L951.0 59.7L951.3 60.4L951.7 61.0L952.0 61.7L952.2 62.4L952.4 63.1L952.6 63.8L952.8 64.5L952.9 65.3L952.9 66.0L953.0 66.7L952.9 67.4L952.9 68.1L952.8 68.9L952.6 69.6L952.4 70.3L952.2 71.0L952.0 71.7L951.7 72.4L951.3 73.0L951.0 73.7L950.6 74.3L950.1 75.0L949.7 75.6L949.2 76.2L948.7 76.7L948.1 77.3L947.6 77.8L947.0 78.4L946.4 78.9L945.8 79.3L945.2 79.8L944.6 80.3L944.4 80.8L944.5 81.6L944.5 82.3L944.6 83.1L944.7 83.8L944.7 84.6L944.7 85.3L944.6 86.1L944.6 86.9L944.5 87.6L944.4 88.3L944.2 89.1L944.0 89.8L943.8 90.5L943.5 91.2L943.3 91.9L942.9 92.6L942.6 93.2L942.2 93.8L941.8 94.5L941.3 95.0L940.8 95.6L940.3 96.1L939.7 96.6L939.2 97.1L938.6 97.5L937.9 97.9L937.3 98.3L936.6 98.7L935.9 99.0L935.2 99.2L934.5 99.5L933.7 99.7L933.0 99.9L932.2 100.0L931.4 100.2L930.7 100.2L929.9 100.3L929.1 100.3L928.3 100.3L927.5 100.3L926.7 100.3L926.0 100.2L925.2 100.1L924.4 100.0L923.8 100.3L923.3 100.9L922.9 101.4L922.3 102.0L921.8 102.6L921.3 103.1L920.7 103.7L920.1 104.2L919.5 104.7L918.9 105.1L918.3 105.6L917.6 106.0L917.0 106.4L916.3 106.7L915.6 107.1L914.9 107.3L914.2 107.6L913.4 107.8L912.7 108.0L912.0 108.1L911.2 108.2L910.5 108.3L909.7 108.3L908.9 108.3L908.2 108.2L907.4 108.1L906.7 108.0L906.0 107.8L905.2 107.6L904.5 107.3L903.8 107.1L903.1 106.7L902.4 106.4L901.8 106.0L901.1 105.6L900.5 105.1L899.9 104.7L899.3 104.2L898.7 103.7L898.1 103.1L897.6 102.6L897.1 102.0L896.5 101.4L896.1 100.9L895.6 100.3L895.0 100.0L894.2 100.1L893.4 100.2L892.7 100.3L891.9 100.3L891.1 100.3L890.3 100.3L889.5 100.3L888.7 100.2L888.0 100.2L887.2 100.0L886.4 99.9L885.7 99.7L884.9 99.5L884.2 99.2L883.5 99.0L882.8 98.7L882.1 98.3L881.5 97.9L880.8 97.5L880.2 97.1L879.7 96.6L879.1 96.1L878.6 95.6L878.1 95.0L877.6 94.5L877.2 93.8L876.8 93.2L876.5 92.6L876.1 91.9L875.9 91.2L875.6 90.5L875.4 89.8L875.2 89.1L875.0 88.3L874.9 87.6L874.8 86.9L874.8 86.1L874.7 85.3L874.7 84.6L874.7 83.8L874.8 83.1L874.9 82.3L874.9 81.6L875.0 80.8L874.8 80.3L874.2 79.8L873.6 79.3L873.0 78.9L872.4 78.4L871.8 77.8L871.3 77.3L870.7 76.7L870.2 76.2L869.7 75.6L869.3 75.0L868.8 74.3L868.4 73.7L868.1 73.0L867.7 72.4L867.4 71.7L867.2 71.0L867.0 70.3L866.8 69.6L866.6 68.9L866.5 68.1L866.5 67.4L866.4 66.7L866.5 66.0L866.5 65.3L866.6 64.5L866.8 63.8L867.0 63.1L867.2 62.4L867.4 61.7L867.7 61.0L868.1 60.4L868.4 59.7L868.8 59.1L869.3 58.4L869.7 57.8L870.2 57.2L870.7 56.7L871.3 56.1L871.8 55.6L872.4 55.0L873.0 54.5L873.6 54.1L874.2 53.6L874.8 53.1L875.0 52.6L874.9 51.8L874.9 51.1L874.8 50.3L874.7 49.6L874.7 48.8L874.7 48.1L874.8 47.3L874.8 46.5L874.9 45.8L875.0 45.1L875.2 44.3L875.4 43.6L875.6 42.9L875.9 42.2L876.1 41.5L876.5 40.8L876.8 40.2L877.2 39.6L877.6 38.9L878.1 38.4L878.6 37.8L879.1 37.3L879.7 36.8L880.2 36.3L880.8 35.9L881.5 35.5L882.1 35.1L882.8 34.7L883.5 34.4L884.2 34.2L884.9 33.9L885.7 33.7L886.4 33.5L887.2 33.4L888.0 33.2L888.7 33.2L889.5 33.1L890.3 33.1L891.1 33.1L891.9 33.1L892.7 33.1L893.4 33.2L894.2 33.3L895.0 33.4L895.6 33.1L896.1 32.5L896.5 32.0L897.1 31.4L897.6 30.8L898.1 30.3L898.7 29.7L899.3 29.2L899.9 28.7L900.5 28.3L901.1 27.8L901.8 27.4L902.4 27.0L903.1 26.7L903.8 26.3L904.5 26.1L905.2 25.8L906.0 25.6L906.7 25.4L907.4 25.3L908.2 25.2L908.9 25.1Z"/>
<path fill="#ffffff" d="M908.4 28.1L909.1 28.1L909.9 28.2L910.6 28.3L911.3 28.4L912.0 28.6L912.7 28.8L913.4 29.0L914.1 29.3L914.8 29.6L915.5 30.0L916.1 30.3L916.7 30.7L917.4 31.2L918.0 31.6L918.5 32.1L919.1 32.6L919.6 33.1L920.2 33.6L920.7 34.2L921.2 34.7L921.6 35.3L922.1 35.9L922.7 36.1L923.4 36.0L924.2 35.9L924.9 35.8L925.7 35.8L926.4 35.8L927.2 35.8L928.0 35.8L928.7 35.8L929.5 35.9L930.3 36.0L931.0 36.2L931.7 36.3L932.5 36.5L933.2 36.8L933.9 37.0L934.5 37.3L935.2 37.7L935.8 38.0L936.4 38.4L937.0 38.8L937.6 39.3L938.1 39.8L938.6 40.3L939.1 40.8L939.5 41.4L939.9 41.9L940.3 42.5L940.7 43.2L941.0 43.8L941.3 44.4L941.5 45.1L941.7 45.8L941.9 46.5L942.1 47.2L942.2 47.9L942.3 48.6L942.3 49.4L942.3 50.1L942.3 50.8L942.3 51.5L942.3 52.3L942.2 53.0L942.1 53.7L942.0 54.4L942.2 55.0L942.8 55.4L943.4 55.8L944.0 56.3L944.6 56.8L945.2 57.3L945.7 57.8L946.2 58.3L946.7 58.9L947.2 59.4L947.6 60.0L948.1 60.6L948.5 61.2L948.8 61.8L949.1 62.5L949.4 63.1L949.7 63.8L949.9 64.5L950.1 65.1L950.2 65.8L950.3 66.5L950.4 67.2L950.4 67.9L950.4 68.6L950.3 69.3L950.2 70.0L950.1 70.7L949.9 71.3L949.7 72.0L949.4 72.7L949.1 73.3L948.8 74.0L948.5 74.6L948.1 75.2L947.6 75.8L947.2 76.4L946.7 76.9L946.2 77.5L945.7 78.0L945.2 78.5L944.6 79.0L944.0 79.5L943.4 80.0L942.8 80.4L942.2 80.8L942.0 81.4L942.1 82.1L942.2 82.8L942.3 83.5L942.3 84.3L942.3 85.0L942.3 85.7L942.3 86.4L942.3 87.2L942.2 87.9L942.1 88.6L941.9 89.3L941.7 90.0L941.5 90.7L941.3 91.4L941.0 92.0L940.7 92.6L940.3 93.3L939.9 93.9L939.5 94.4L939.1 95.0L938.6 95.5L938.1 96.0L937.6 96.5L937.0 97.0L936.4 97.4L935.8 97.8L935.2 98.1L934.5 98.5L933.9 98.8L933.2 99.0L932.5 99.3L931.7 99.5L931.0 99.6L930.3 99.8L929.5 99.9L928.7 100.0L928.0 100.0L927.2 100.0L926.4 100.0L925.7 100.0L924.9 100.0L924.2 99.9L923.4 99.8L922.7 99.7L922.1 99.9L921.6 100.5L921.2 101.1L920.7 101.6L920.2 102.2L919.6 102.7L919.1 103.2L918.5 103.7L918.0 104.2L917.4 104.6L916.7 105.1L916.1 105.5L915.5 105.8L914.8 106.2L914.1 106.5L913.4 106.8L912.7 107.0L912.0 107.2L911.3 107.4L910.6 107.5L909.9 107.6L909.1 107.7L908.4 107.7L907.7 107.7L906.9 107.6L906.2 107.5L905.5 107.4L904.8 107.2L904.1 107.0L903.4 106.8L902.7 106.5L902.0 106.2L901.3 105.8L900.7 105.5L900.1 105.1L899.4 104.6L898.8 104.2L898.3 103.7L897.7 103.2L897.2 102.7L896.6 102.2L896.1 101.6L895.6 101.1L895.2 100.5L894.7 99.9L894.1 99.7L893.4 99.8L892.6 99.9L891.9 100.0L891.1 100.0L890.4 100.0L889.6 100.0L888.8 100.0L888.1 100.0L887.3 99.9L886.5 99.8L885.8 99.6L885.1 99.5L884.3 99.3L883.6 99.0L882.9 98.8L882.3 98.5L881.6 98.1L881.0 97.8L880.4 97.4L879.8 97.0L879.2 96.5L878.7 96.0L878.2 95.5L877.7 95.0L877.3 94.4L876.9 93.9L876.5 93.3L876.1 92.6L875.8 92.0L875.5 91.4L875.3 90.7L875.1 90.0L874.9 89.3L874.7 88.6L874.6 87.9L874.5 87.2L874.5 86.4L874.5 85.7L874.5 85.0L874.5 84.3L874.5 83.5L874.6 82.8L874.7 82.1L874.8 81.4L874.6 80.8L874.0 80.4L873.4 80.0L872.8 79.5L872.2 79.0L871.6 78.5L871.1 78.0L870.6 77.5L870.1 76.9L869.6 76.4L869.2 75.8L868.7 75.2L868.3 74.6L868.0 74.0L867.7 73.3L867.4 72.7L867.1 72.0L866.9 71.3L866.7 70.7L866.6 70.0L866.5 69.3L866.4 68.6L866.4 67.9L866.4 67.2L866.5 66.5L866.6 65.8L866.7 65.1L866.9 64.5L867.1 63.8L867.4 63.1L867.7 62.5L868.0 61.8L868.3 61.2L868.7 60.6L869.2 60.0L869.6 59.4L870.1 58.9L870.6 58.3L871.1 57.8L871.6 57.3L872.2 56.8L872.8 56.3L873.4 55.8L874.0 55.4L874.6 55.0L874.8 54.4L874.7 53.7L874.6 53.0L874.5 52.3L874.5 51.5L874.5 50.8L874.5 50.1L874.5 49.4L874.5 48.6L874.6 47.9L874.7 47.2L874.9 46.5L875.1 45.8L875.3 45.1L875.5 44.4L875.8 43.8L876.1 43.2L876.5 42.5L876.9 41.9L877.3 41.4L877.7 40.8L878.2 40.3L878.7 39.8L879.2 39.3L879.8 38.8L880.4 38.4L881.0 38.0L881.6 37.7L882.3 37.3L882.9 37.0L883.6 36.8L884.3 36.5L885.1 36.3L885.8 36.2L886.5 36.0L887.3 35.9L888.1 35.8L888.8 35.8L889.6 35.8L890.4 35.8L891.1 35.8L891.9 35.8L892.6 35.9L893.4 36.0L894.1 36.1L894.7 35.9L895.2 35.3L895.6 34.7L896.1 34.2L896.6 33.6L897.2 33.1L897.7 32.6L898.3 32.1L898.8 31.6L899.4 31.2L900.1 30.7L900.7 30.3L901.3 30.0L902.0 29.6L902.7 29.3L903.4 29.0L904.1 28.8L904.8 28.6L905.5 28.4L906.2 28.3L906.9 28.2L907.7 28.1Z"/>
<path fill="none" stroke="#c9d8e2" stroke-width="0.6" d="M908.4 29.5L909.1 29.5L909.8 29.6L910.5 29.7L911.2 29.8L911.9 30.0L912.6 30.2L913.3 30.4L913.9 30.7L914.6 31.0L915.2 31.3L915.8 31.7L916.4 32.1L917.0 32.5L917.6 32.9L918.2 33.4L918.7 33.9L919.2 34.4L919.7 34.9L920.2 35.5L920.7 36.0L921.1 36.6L921.5 37.1L922.1 37.4L922.8 37.2L923.5 37.1L924.3 37.1L925.0 37.0L925.8 37.0L926.5 37.0L927.2 37.0L928.0 37.0L928.7 37.1L929.5 37.2L930.2 37.3L930.9 37.5L931.6 37.7L932.3 37.9L933.0 38.1L933.6 38.4L934.2 38.7L934.9 39.1L935.5 39.4L936.0 39.8L936.6 40.3L937.1 40.7L937.6 41.2L938.0 41.7L938.4 42.3L938.8 42.8L939.2 43.4L939.5 44.0L939.8 44.6L940.1 45.3L940.3 45.9L940.5 46.6L940.7 47.3L940.8 48.0L940.9 48.6L941.0 49.3L941.0 50.0L941.1 50.8L941.1 51.5L941.0 52.2L941.0 52.9L940.9 53.6L940.8 54.2L940.7 54.9L940.9 55.5L941.5 55.9L942.1 56.3L942.7 56.7L943.2 57.2L943.8 57.7L944.3 58.2L944.8 58.7L945.3 59.2L945.8 59.7L946.2 60.3L946.6 60.9L947.0 61.4L947.4 62.1L947.7 62.7L948.0 63.3L948.2 63.9L948.5 64.6L948.6 65.2L948.8 65.9L948.9 66.6L948.9 67.2L949.0 67.9L948.9 68.6L948.9 69.2L948.8 69.9L948.6 70.6L948.5 71.2L948.2 71.9L948.0 72.5L947.7 73.1L947.4 73.7L947.0 74.4L946.6 74.9L946.2 75.5L945.8 76.1L945.3 76.6L944.8 77.1L944.3 77.6L943.8 78.1L943.2 78.6L942.7 79.1L942.1 79.5L941.5 79.9L940.9 80.3L940.7 80.9L940.8 81.6L940.9 82.2L941.0 82.9L941.0 83.6L941.1 84.3L941.1 85.0L941.0 85.8L941.0 86.5L940.9 87.2L940.8 87.8L940.7 88.5L940.5 89.2L940.3 89.9L940.1 90.5L939.8 91.2L939.5 91.8L939.2 92.4L938.8 93.0L938.4 93.5L938.0 94.1L937.6 94.6L937.1 95.1L936.6 95.5L936.0 96.0L935.5 96.4L934.9 96.7L934.2 97.1L933.6 97.4L933.0 97.7L932.3 97.9L931.6 98.1L930.9 98.3L930.2 98.5L929.5 98.6L928.7 98.7L928.0 98.8L927.2 98.8L926.5 98.8L925.8 98.8L925.0 98.8L924.3 98.7L923.5 98.7L922.8 98.6L922.1 98.4L921.5 98.7L921.1 99.2L920.7 99.8L920.2 100.3L919.7 100.9L919.2 101.4L918.7 101.9L918.2 102.4L917.6 102.9L917.0 103.3L916.4 103.7L915.8 104.1L915.2 104.5L914.6 104.8L913.9 105.1L913.3 105.4L912.6 105.6L911.9 105.8L911.2 106.0L910.5 106.1L909.8 106.2L909.1 106.3L908.4 106.3L907.7 106.3L907.0 106.2L906.3 106.1L905.6 106.0L904.9 105.8L904.2 105.6L903.5 105.4L902.9 105.1L902.2 104.8L901.6 104.5L901.0 104.1L900.4 103.7L899.8 103.3L899.2 102.9L898.6 102.4L898.1 101.9L897.6 101.4L897.1 100.9L896.6 100.3L896.1 99.8L895.7 99.2L895.3 98.7L894.7 98.4L894.0 98.6L893.3 98.7L892.5 98.7L891.8 98.8L891.0 98.8L890.3 98.8L889.5 98.8L888.8 98.8L888.1 98.7L887.3 98.6L886.6 98.5L885.9 98.3L885.2 98.1L884.5 97.9L883.8 97.7L883.2 97.4L882.6 97.1L881.9 96.7L881.3 96.4L880.8 96.0L880.2 95.5L879.7 95.1L879.2 94.6L878.8 94.1L878.4 93.5L878.0 93.0L877.6 92.4L877.3 91.8L877.0 91.2L876.7 90.5L876.5 89.9L876.3 89.2L876.1 88.5L876.0 87.8L875.9 87.2L875.8 86.5L875.8 85.8L875.7 85.0L875.7 84.3L875.8 83.6L875.8 82.9L875.9 82.2L876.0 81.6L876.1 80.9L875.9 80.3L875.3 79.9L874.7 79.5L874.1 79.1L873.6 78.6L873.0 78.1L872.5 77.6L872.0 77.1L871.5 76.6L871.0 76.1L870.6 75.5L870.2 74.9L869.8 74.4L869.4 73.7L869.1 73.1L868.8 72.5L868.6 71.9L868.3 71.2L868.2 70.6L868.0 69.9L867.9 69.2L867.9 68.6L867.8 67.9L867.9 67.2L867.9 66.6L868.0 65.9L868.2 65.2L868.3 64.6L868.6 63.9L868.8 63.3L869.1 62.7L869.4 62.1L869.8 61.4L870.2 60.9L870.6 60.3L871.0 59.7L871.5 59.2L872.0 58.7L872.5 58.2L873.0 57.7L873.6 57.2L874.1 56.7L874.7 56.3L875.3 55.9L875.9 55.5L876.1 54.9L876.0 54.2L875.9 53.6L875.8 52.9L875.8 52.2L875.7 51.5L875.7 50.8L875.8 50.0L875.8 49.3L875.9 48.6L876.0 48.0L876.1 47.3L876.3 46.6L876.5 45.9L876.7 45.3L877.0 44.6L877.3 44.0L877.6 43.4L878.0 42.8L878.4 42.3L878.8 41.7L879.2 41.2L879.7 40.7L880.2 40.3L880.8 39.8L881.3 39.4L881.9 39.1L882.6 38.7L883.2 38.4L883.8 38.1L884.5 37.9L885.2 37.7L885.9 37.5L886.6 37.3L887.3 37.2L888.1 37.1L888.8 37.0L889.5 37.0L890.3 37.0L891.0 37.0L891.8 37.0L892.5 37.1L893.3 37.1L894.0 37.2L894.7 37.4L895.3 37.1L895.7 36.6L896.1 36.0L896.6 35.5L897.1 34.9L897.6 34.4L898.1 33.9L898.6 33.4L899.2 32.9L899.8 32.5L900.4 32.1L901.0 31.7L901.6 31.3L902.2 31.0L902.9 30.7L903.5 30.4L904.2 30.2L904.9 30.0L905.6 29.8L906.3 29.7L907.0 29.6L907.7 29.5Z"/>
</g>
<!-- EMBLEM -->
<g id="emblem">
<path d="M48.300 671C50 677.200 54.800 680.300 60.200 680.300C65.700 680.300 70.500 677.200 72.200 671" fill="none" stroke="#707434" stroke-width="3.8" stroke-linecap="round"/>
<path d="M49.500 672.500C51.500 677.200 55.500 679.600 60.200 679.600C65 679.600 69 677.200 71 672.500" fill="none" stroke="#a99c4c" stroke-width="1.3" stroke-dasharray="1.5 1.5"/>
<circle cx="60.2" cy="663.4" r="12.6" fill="#8a4b46" stroke="#c2d6dc" stroke-width="1.1"/>
<circle cx="60.2" cy="663.4" r="10.6" fill="none" stroke="#5c6f57" stroke-width="1.4" stroke-dasharray="2.4 1.8"/>
<path fill="#fff4e6" d="M60.2 652.0L62.4 658.0L68.3 655.3L65.6 661.2L71.6 663.4L65.6 665.6L68.3 671.5L62.4 668.8L60.2 674.8L58.0 668.8L52.1 671.5L54.8 665.6L48.8 663.4L54.8 661.2L52.1 655.3L58.0 658.0Z"/>
<ellipse cx="60.2" cy="663.8" rx="2.9" ry="4.1" fill="#e23a2e"/>
</g>

<text transform="translate(898.49 45.30) scale(1.2620 1)" font-family='"Liberation Sans", sans-serif' font-size="7" font-weight="bold" fill="#0e5586" >2025</text>
<text transform="translate(881.46 64.10) scale(1.1034 1)" font-family='"Liberation Sans", sans-serif' font-size="15.5" font-weight="bold" fill="#0e5586" >İXRAC</text>
<text transform="translate(881.55 78.30) scale(1.0335 1)" font-family='"Liberation Sans", sans-serif' font-size="15.2" font-weight="bold" fill="#0e5586" >İCMALI</text>
<text transform="translate(896.07 90.00) scale(1.0492 1)" font-family='"Liberation Sans", sans-serif' font-size="7.6" font-weight="bold" fill="#0e5586" >dekabr</text>
</svg>
</body>
</html>
